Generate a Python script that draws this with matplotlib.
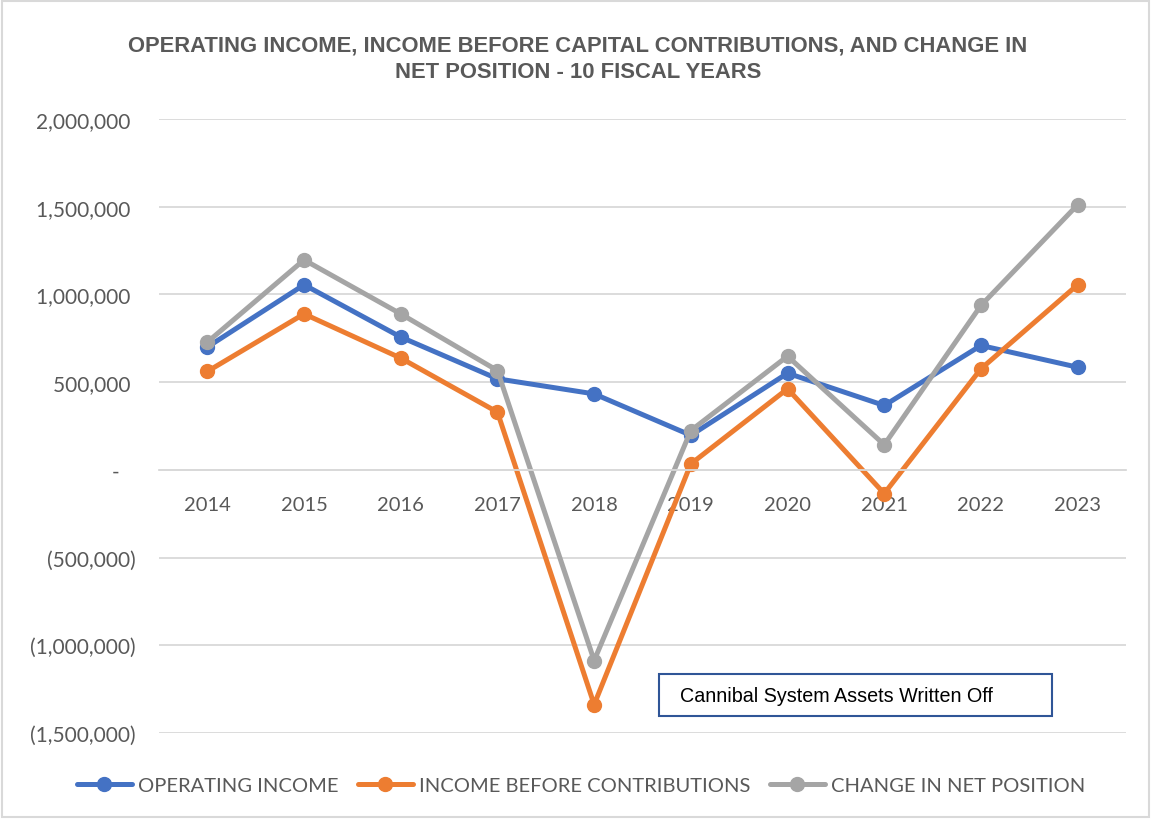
import matplotlib
matplotlib.use("Agg")
import matplotlib.pyplot as plt
from matplotlib import font_manager
from matplotlib.patches import Rectangle
from matplotlib.ticker import FuncFormatter

years = ["2014", "2015", "2016", "2017", "2018", "2019", "2020", "2021", "2022", "2023"]
operating_income = [700000, 1055000, 757000, 519000, 433000, 197000, 551000, 367000, 709000, 585000]
income_before_contrib = [561000, 889000, 637000, 329000, -1338000, 34000, 462000, -135000, 576000, 1055000]
change_in_net_position = [728000, 1197000, 889000, 566000, -1087000, 224000, 648000, 143000, 937000, 1511000]

series_names = ["OPERATING INCOME", "INCOME BEFORE CONTRIBUTIONS", "CHANGE IN NET POSITION"]
colors = ["#4472C4", "#ED7D31", "#A5A5A5"]

title = "OPERATING INCOME, INCOME BEFORE CAPITAL CONTRIBUTIONS, AND CHANGE IN\nNET POSITION - 10 FISCAL YEARS"
note = "Cannibal System Assets Written Off"

installed = {f.name for f in font_manager.fontManager.ttflist}
narrow = "Liberation Sans Narrow" if "Liberation Sans Narrow" in installed else "Liberation Sans"
body = "Lato"
text_grey = "#595959"
grid_grey = "#D9D9D9"


def fmt(v, pos):
    if v == 0:
        return "-   "
    if v < 0:
        return "({:,.0f})".format(-v)
    return "{:,.0f} ".format(v)


fig = plt.figure(figsize=(11.51, 8.2), dpi=100)
ax = fig.add_axes([159 / 1151, 1 - 734 / 820, 967 / 1151, 614 / 820])

x = list(range(len(years)))
for vals, name, c in zip([operating_income, income_before_contrib, change_in_net_position], series_names, colors):
    ax.plot(x, vals, color=c, lw=3.6, marker="o", markersize=10, label=name, solid_capstyle="round")

ax.set_xlim(-0.5, len(years) - 0.5)
ax.set_ylim(-1500000, 2000000)
ax.set_yticks(range(-1500000, 2000001, 500000))
ax.yaxis.set_major_formatter(FuncFormatter(fmt))
ax.set_xticks(x)
ax.set_xticklabels(years)

ax.grid(axis="y", color=grid_grey, lw=1.3)
ax.set_axisbelow(True)
for s in ["top", "right", "left"]:
    ax.spines[s].set_visible(False)
ax.spines["bottom"].set_position(("data", 0))
ax.spines["bottom"].set_color(grid_grey)
ax.spines["bottom"].set_linewidth(1.3)
ax.tick_params(axis="x", length=0, labelsize=14.5, labelcolor=text_grey, pad=19)
ax.tick_params(axis="y", length=0, labelsize=15, labelcolor=text_grey, pad=17)
for lab in ax.get_xticklabels() + ax.get_yticklabels():
    lab.set_fontfamily(body)

fig.text(578 / 1151, 1 - 59 / 820, title, ha="center", va="center", fontsize=15.8,
         fontweight="bold", color=text_grey, family=narrow, linespacing=1.35)

fig.text(680 / 1151, 1 - 697 / 820, note, ha="left", va="center", fontsize=14.2,
         color="black", family=narrow)
fig.patches.append(Rectangle((659 / 1151, 1 - 717 / 820), 393 / 1151, 42 / 820,
                             transform=fig.transFigure, fill=False, ec="#2F5597", lw=1.5))

leg = fig.legend(loc="center", bbox_to_anchor=(581 / 1151, 1 - 786 / 820), ncol=3, frameon=False,
                 prop={"family": body, "size": 14.5}, handlelength=2.7, handletextpad=0.3,
                 columnspacing=1.0)
for t in leg.get_texts():
    t.set_color(text_grey)

fig.patches.append(Rectangle((0.002, 0.002), 0.996, 0.996, transform=fig.transFigure,
                             fill=False, ec=grid_grey, lw=1.5))

fig.savefig("out.png", dpi=100)
